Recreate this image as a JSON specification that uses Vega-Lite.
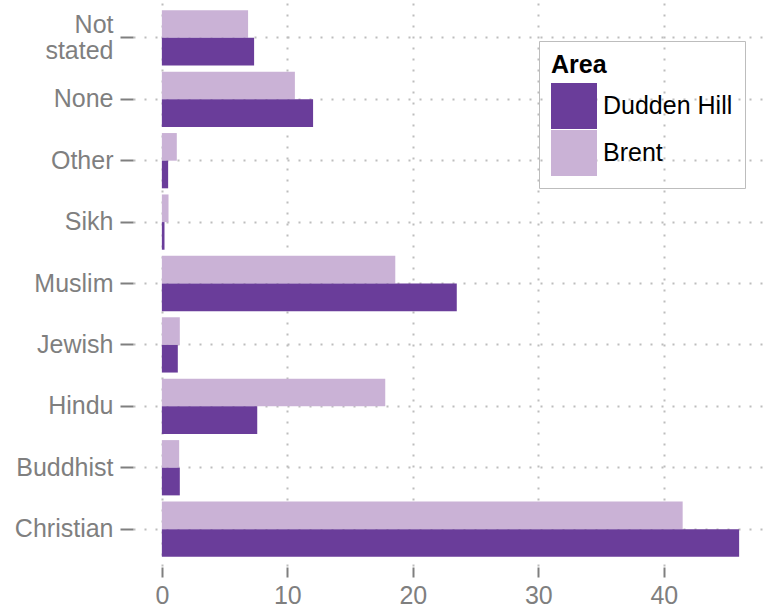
{
  "$schema": "https://vega.github.io/schema/vega-lite/v6.json",
  "autosize": {"type": "none"},
  "width": 635,
  "height": 565,
  "padding": {"left": 133, "top": 1, "right": 11, "bottom": 40},
  "config": {"view": {"stroke": null}, "font": "Liberation Sans"},
  "data": {
    "values": [
      {"Religion": "Not stated", "Area": "Brent", "Percent": 6.87},
      {"Religion": "Not stated", "Area": "Dudden Hill", "Percent": 7.35},
      {"Religion": "None", "Area": "Brent", "Percent": 10.6},
      {"Religion": "None", "Area": "Dudden Hill", "Percent": 12.05},
      {"Religion": "Other", "Area": "Brent", "Percent": 1.19},
      {"Religion": "Other", "Area": "Dudden Hill", "Percent": 0.5},
      {"Religion": "Sikh", "Area": "Brent", "Percent": 0.53},
      {"Religion": "Sikh", "Area": "Dudden Hill", "Percent": 0.21},
      {"Religion": "Muslim", "Area": "Brent", "Percent": 18.6},
      {"Religion": "Muslim", "Area": "Dudden Hill", "Percent": 23.5},
      {"Religion": "Jewish", "Area": "Brent", "Percent": 1.43},
      {"Religion": "Jewish", "Area": "Dudden Hill", "Percent": 1.27},
      {"Religion": "Hindu", "Area": "Brent", "Percent": 17.8},
      {"Religion": "Hindu", "Area": "Dudden Hill", "Percent": 7.6},
      {"Religion": "Buddhist", "Area": "Brent", "Percent": 1.38},
      {"Religion": "Buddhist", "Area": "Dudden Hill", "Percent": 1.43},
      {"Religion": "Christian", "Area": "Brent", "Percent": 41.5},
      {"Religion": "Christian", "Area": "Dudden Hill", "Percent": 46.0}
    ]
  },
  "mark": {"type": "bar"},
  "encoding": {
    "y": {
      "field": "Religion",
      "type": "nominal",
      "sort": ["Not stated", "None", "Other", "Sikh", "Muslim", "Jewish", "Hindu", "Buddhist", "Christian"],
      "scale": {"paddingInner": 0.1, "paddingOuter": 0.15},
      "axis": {
        "title": null,
        "domain": false,
        "labelFontSize": 25,
        "labelColor": "#7f7f7f",
        "tickColor": "#7f7f7f",
        "tickSize": 13,
        "tickWidth": 2,
        "labelPadding": 7,
        "bandPosition": 0.5,
        "grid": true,
        "gridDash": [2, 9],
        "gridColor": "#bdbdbd",
        "gridWidth": 2,
        "labelLineHeight": 26,
        "labelOffset": {"condition": {"test": "datum.value == 'Not stated'", "value": -13}, "value": 0},
        "labelExpr": "datum.value == 'Not stated' ? ['Not', 'stated'] : datum.value"
      }
    },
    "yOffset": {
      "field": "Area",
      "sort": ["Brent", "Dudden Hill"],
      "scale": {"paddingInner": 0, "paddingOuter": 0}
    },
    "x": {
      "field": "Percent",
      "type": "quantitative",
      "scale": {"domain": [-2.3, 48.3], "nice": false, "zero": false},
      "axis": {
        "title": null,
        "domain": false,
        "values": [0, 10, 20, 30, 40],
        "labelFontSize": 25,
        "labelColor": "#7f7f7f",
        "tickColor": "#7f7f7f",
        "tickSize": 10,
        "tickWidth": 2,
        "labelPadding": 6,
        "offset": 1,
        "grid": true,
        "gridDash": [2, 9],
        "gridColor": "#bdbdbd",
        "gridWidth": 2
      }
    },
    "color": {
      "field": "Area",
      "type": "nominal",
      "scale": {"domain": ["Dudden Hill", "Brent"], "range": ["#6a3d9a", "#cab2d6"]},
      "legend": {
        "orient": "none",
        "legendX": 406,
        "legendY": 40,
        "title": "Area",
        "titleFontSize": 25,
        "titleFontWeight": "bold",
        "titleColor": "#000000",
        "titlePadding": 5,
        "labelFontSize": 25,
        "labelColor": "#000000",
        "labelOffset": 6,
        "symbolType": "square",
        "symbolSize": 2116,
        "symbolStrokeWidth": 0,
        "symbolOpacity": 1,
        "rowPadding": 1,
        "padding": 12,
        "strokeColor": "#bdbdbd"
      }
    }
  }
}
